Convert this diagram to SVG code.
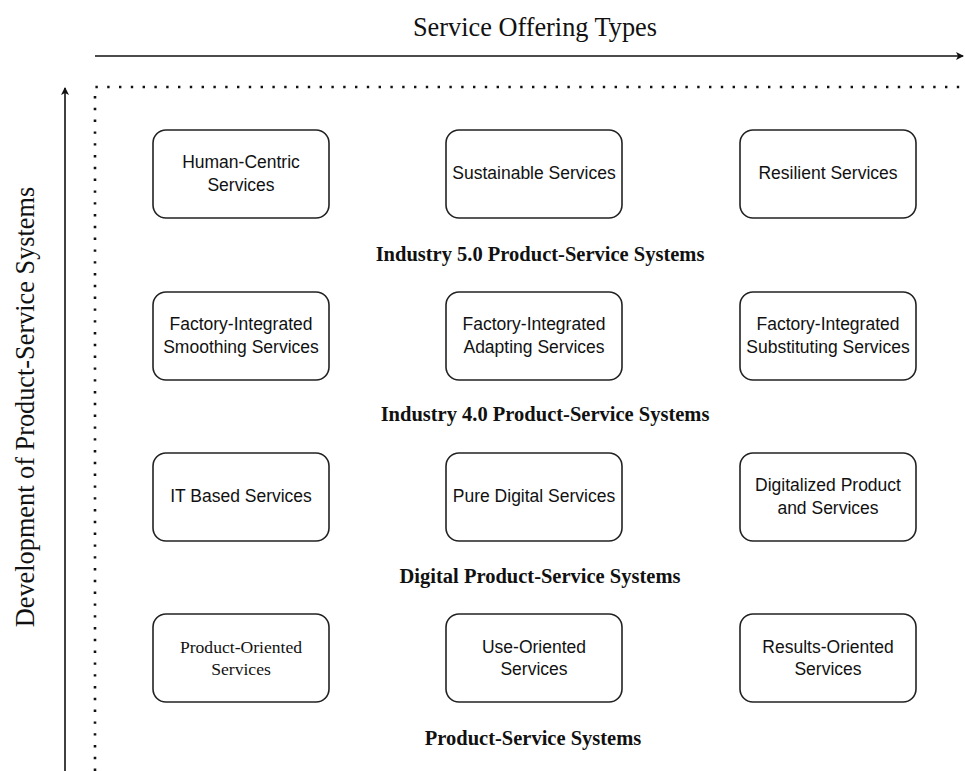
<svg xmlns="http://www.w3.org/2000/svg" width="965" height="771" viewBox="0 0 965 771">
  <style>
    .box { fill: #ffffff; stroke: #222222; stroke-width: 1.6; }
    .t { font-family: "Liberation Sans", Arial, sans-serif; font-size: 17.5px; fill: #111111; text-anchor: middle; dominant-baseline: central; }
    .ts { font-family: "Liberation Serif", "Times New Roman", serif; font-size: 17.6px; fill: #111111; text-anchor: middle; dominant-baseline: central; }
    .lvl { font-family: "Liberation Serif", "Times New Roman", serif; font-size: 20.5px; font-weight: bold; fill: #111111; text-anchor: middle; dominant-baseline: central; }
    .axis { font-family: "Liberation Serif", "Times New Roman", serif; font-size: 26.3px; fill: #111111; text-anchor: middle; dominant-baseline: central; }
    .dot { fill: none; stroke: #111111; stroke-width: 2.6; stroke-dasharray: 2.4 9.4; }
    .arr { fill: none; stroke: #111111; stroke-width: 1.6; }
  </style>
  <defs>
    <marker id="head" markerWidth="10" markerHeight="10" refX="8" refY="5" orient="auto" markerUnits="userSpaceOnUse">
      <path d="M1,1 L9,5 L1,9 L3,5 Z" fill="#111111"/>
    </marker>
  </defs>
  <rect width="965" height="771" fill="#ffffff"/>

  <!-- axis titles -->
  <text class="axis" x="535" y="27">Service Offering Types</text>
  <text class="axis" x="25" y="407" transform="rotate(-90 25 407)">Development of Product-Service Systems</text>

  <g id="connectors">
    <line class="arr" x1="95" y1="56" x2="963" y2="56" marker-end="url(#head)"/>
    <line class="arr" x1="65" y1="771" x2="65" y2="88" marker-end="url(#head)"/>
    <!-- dotted frame -->
    <path class="dot" d="M95,771 L95,87 L965,87"/>
  </g>

  <!-- Industry 5.0 row -->
  <g id="human-centric">
    <rect class="box" x="153" y="130" width="176" height="88" rx="13"/>
    <text class="t" x="241" y="162">Human-Centric</text>
    <text class="t" x="241" y="185">Services</text>
  </g>
  <g id="sustainable">
    <rect class="box" x="446" y="130" width="176" height="88" rx="13"/>
    <text class="t" x="534" y="173">Sustainable Services</text>
  </g>
  <g id="resilient">
    <rect class="box" x="740" y="130" width="176" height="88" rx="13"/>
    <text class="t" x="828" y="173">Resilient Services</text>
  </g>
  <text class="lvl" x="540" y="254">Industry 5.0 Product-Service Systems</text>

  <!-- Industry 4.0 row -->
  <g id="fi-smoothing">
    <rect class="box" x="153" y="292" width="176" height="88" rx="13"/>
    <text class="t" x="241" y="324">Factory-Integrated</text>
    <text class="t" x="241" y="347">Smoothing Services</text>
  </g>
  <g id="fi-adapting">
    <rect class="box" x="446" y="292" width="176" height="88" rx="13"/>
    <text class="t" x="534" y="324">Factory-Integrated</text>
    <text class="t" x="534" y="347">Adapting Services</text>
  </g>
  <g id="fi-substituting">
    <rect class="box" x="740" y="292" width="176" height="88" rx="13"/>
    <text class="t" x="828" y="324">Factory-Integrated</text>
    <text class="t" x="828" y="347">Substituting Services</text>
  </g>
  <text class="lvl" x="545" y="414">Industry 4.0 Product-Service Systems</text>

  <!-- Digital row -->
  <g id="it-based">
    <rect class="box" x="153" y="453" width="176" height="88" rx="13"/>
    <text class="t" x="241" y="496">IT Based Services</text>
  </g>
  <g id="pure-digital">
    <rect class="box" x="446" y="453" width="176" height="88" rx="13"/>
    <text class="t" x="534" y="496">Pure Digital Services</text>
  </g>
  <g id="digitalized">
    <rect class="box" x="740" y="453" width="176" height="88" rx="13"/>
    <text class="t" x="828" y="485">Digitalized Product</text>
    <text class="t" x="828" y="508">and Services</text>
  </g>
  <text class="lvl" x="540" y="576">Digital Product-Service Systems</text>

  <!-- Product-Service row -->
  <g id="product-oriented">
    <rect class="box" x="153" y="614" width="176" height="88" rx="13"/>
    <text class="ts" x="241" y="647">Product-Oriented</text>
    <text class="ts" x="241" y="669">Services</text>
  </g>
  <g id="use-oriented">
    <rect class="box" x="446" y="614" width="176" height="88" rx="13"/>
    <text class="t" x="534" y="647">Use-Oriented</text>
    <text class="t" x="534" y="669">Services</text>
  </g>
  <g id="results-oriented">
    <rect class="box" x="740" y="614" width="176" height="88" rx="13"/>
    <text class="t" x="828" y="647">Results-Oriented</text>
    <text class="t" x="828" y="669">Services</text>
  </g>
  <text class="lvl" x="533" y="738">Product-Service Systems</text>
</svg>
